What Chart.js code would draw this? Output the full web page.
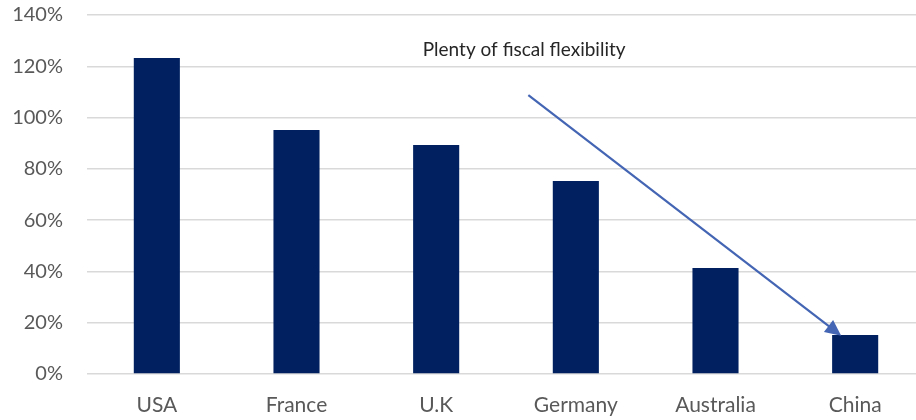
<!DOCTYPE html>
<html>
<head>
<meta charset="utf-8">
<script src="https://cdn.jsdelivr.net/npm/chart.js@4.4.1/dist/chart.umd.min.js"></script>
<style>
    html, body { margin: 0; padding: 0; background: #fff; overflow: hidden; }
    #wrap { width: 916px; height: 420px; overflow: hidden; }
    #debtChart { display: block; }
</style>
</head>
<body>
<div id="wrap"><canvas id="debtChart" width="925" height="420"></canvas></div>
<script>
    // Chart data
    const countries = ['USA', 'France', 'U.K', 'Germany', 'Australia', 'China'];
    const debtToGdp = [123.2, 95.2, 89.3, 75.3, 41.3, 15.2];
    const yTicks = [0, 20, 40, 60, 80, 100, 120, 140];

    // Annotation (in data units: category index, percent)
    const noteText = 'Plenty of fiscal flexibility';
    const notePos = [2.63, 126.4];
    const arrowFrom = [2.66, 108.8];
    const arrowTo = [4.9, 14.9];

    const annotationPlugin = {
        id: 'arrowNote',
        afterDatasetsDraw(chart) {
            const ctx = chart.ctx;
            const x = chart.scales.x, y = chart.scales.y;
            const x1 = x.getPixelForValue(arrowFrom[0]), y1 = y.getPixelForValue(arrowFrom[1]);
            const x2 = x.getPixelForValue(arrowTo[0]), y2 = y.getPixelForValue(arrowTo[1]);
            const ang = Math.atan2(y2 - y1, x2 - x1);
            const headLen = 16, headW = 7.5;
            ctx.save();
            ctx.strokeStyle = '#4365B3';
            ctx.fillStyle = '#4365B3';
            ctx.lineWidth = 2.2;
            ctx.beginPath();
            ctx.moveTo(x1, y1);
            ctx.lineTo(x2 - Math.cos(ang) * headLen * 0.8, y2 - Math.sin(ang) * headLen * 0.8);
            ctx.stroke();
            ctx.beginPath();
            ctx.moveTo(x2, y2);
            const bx = x2 - Math.cos(ang) * headLen, by = y2 - Math.sin(ang) * headLen;
            ctx.lineTo(bx + Math.sin(ang) * headW, by - Math.cos(ang) * headW);
            ctx.lineTo(bx - Math.sin(ang) * headW, by + Math.cos(ang) * headW);
            ctx.closePath();
            ctx.fill();

            ctx.fillStyle = '#262626';
            ctx.font = '19px Lato';
            ctx.textAlign = 'center';
            ctx.textBaseline = 'middle';
            ctx.fillText(noteText, x.getPixelForValue(notePos[0]), y.getPixelForValue(notePos[1]));
            ctx.restore();
        }
    };

    document.addEventListener('DOMContentLoaded', function() {
        const ctx = document.getElementById('debtChart').getContext('2d');
        new Chart(ctx, {
            type: 'bar',
            data: {
                labels: countries,
                datasets: [{
                    label: 'Debt to GDP',
                    data: debtToGdp,
                    backgroundColor: '#002060',
                    barPercentage: 0.33,
                    categoryPercentage: 1.0
                }]
            },
            options: {
                responsive: false,
                animation: false,
                layout: { padding: 0 },
                plugins: {
                    legend: { display: false },
                    tooltip: { enabled: false }
                },
                scales: {
                    y: {
                        min: 0,
                        max: 140,
                        afterBuildTicks: function(scale) {
                            scale.ticks = yTicks.map(v => ({ value: v }));
                        },
                        afterFit: function(scale) {
                            scale.width = 87;
                            scale.paddingTop = 15;
                            scale.paddingBottom = 0;
                        },
                        border: { display: false },
                        grid: { color: '#d9d9d9', lineWidth: 1.5, drawTicks: false },
                        ticks: {
                            padding: 24,
                            color: '#595959',
                            font: { family: 'Lato', size: 20 },
                            callback: function(value) { return value + '%'; }
                        }
                    },
                    x: {
                        afterFit: function(scale) { scale.height = 46; },
                        border: { display: false },
                        grid: { display: false, drawTicks: false },
                        ticks: {
                            padding: 19,
                            maxRotation: 0,
                            color: '#595959',
                            font: { family: 'Lato', size: 21 }
                        }
                    }
                }
            },
            plugins: [annotationPlugin]
        });
    });
</script>
</body>
</html>
